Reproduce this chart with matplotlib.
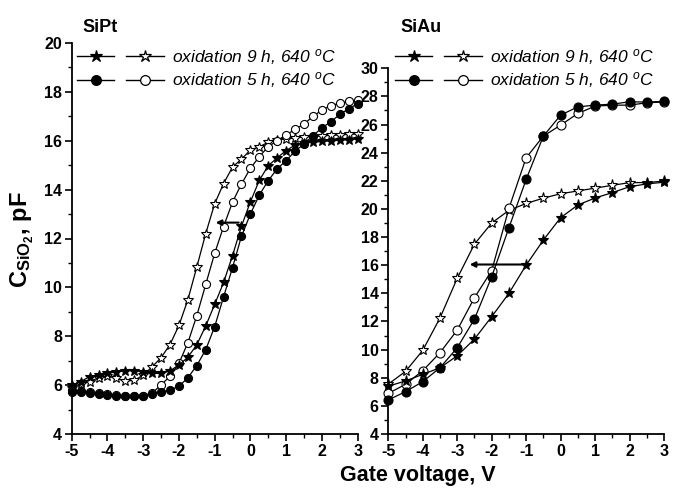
import numpy as np
import matplotlib
matplotlib.use('Agg')
import matplotlib.pyplot as plt
import matplotlib as mpl
from matplotlib import font_manager
from matplotlib.legend_handler import HandlerTuple
from matplotlib.lines import Line2D

# SiPt panel, 0.25 V steps
pt_v = [-5, -4.75, -4.5, -4.25, -4, -3.75, -3.5, -3.25, -3, -2.75, -2.5, -2.25,
        -2, -1.75, -1.5, -1.25, -1, -0.75, -0.5, -0.25, 0, 0.25, 0.5, 0.75,
        1, 1.25, 1.5, 1.75, 2, 2.25, 2.5, 2.75, 3]
pt_9h_fill = [6.0, 6.14, 6.35, 6.41, 6.48, 6.55, 6.59, 6.59, 6.55, 6.48, 6.48, 6.59,
              6.82, 7.14, 7.65, 8.42, 9.3, 10.2, 11.3, 12.5, 13.5, 14.38, 14.98, 15.3,
              15.6, 15.82, 15.9, 15.94, 15.97, 16.0, 16.02, 16.05, 16.08]
pt_9h_open = [5.9, 6.05, 6.14, 6.3, 6.37, 6.28, 6.17, 6.19, 6.41, 6.75, 7.12, 7.66,
              8.44, 9.49, 10.83, 12.2, 13.42, 14.25, 14.92, 15.25, 15.62, 15.75, 15.94, 16.03,
              16.08, 16.12, 16.15, 16.17, 16.2, 16.22, 16.24, 16.26, 16.28]
pt_5h_fill = [5.7, 5.7, 5.68, 5.63, 5.6, 5.57, 5.55, 5.55, 5.55, 5.62, 5.72, 5.8,
              5.95, 6.3, 6.8, 7.45, 8.39, 9.61, 10.81, 12.09, 13.0, 13.78, 14.37, 14.85,
              15.19, 15.57, 15.87, 16.2, 16.53, 16.77, 17.08, 17.3, 17.52]
pt_5h_open = [5.82, 5.76, 5.73, 5.68, 5.63, 5.58, 5.55, 5.55, 5.57, 5.68, 6.0, 6.37,
              6.89, 7.73, 8.84, 10.12, 11.39, 12.49, 13.49, 14.23, 14.87, 15.35, 15.76, 16.0,
              16.23, 16.47, 16.68, 17.0, 17.25, 17.44, 17.53, 17.62, 17.67]

# SiAu panel, 0.5 V steps
au_v = [-5, -4.5, -4, -3.5, -3, -2.5, -2, -1.5, -1, -0.5, 0, 0.5, 1, 1.5, 2, 2.5, 3]
au_9h_fill = [7.4, 7.77, 8.24, 8.71, 9.56, 10.75, 12.34, 14.0, 16.01, 17.79, 19.38,
              20.28, 20.78, 21.16, 21.58, 21.78, 21.9]
au_9h_open = [7.55, 8.45, 9.95, 12.25, 15.07, 17.5, 19.0, 19.9, 20.39, 20.77, 21.08,
              21.28, 21.48, 21.68, 21.87, 21.88, 21.98]
au_5h_fill = [6.42, 7.01, 7.72, 8.71, 10.13, 12.17, 15.18, 18.66, 22.1, 25.18, 26.67,
              27.26, 27.38, 27.45, 27.62, 27.6, 27.65]
au_5h_open = [6.89, 7.53, 8.5, 9.78, 11.39, 13.69, 15.61, 20.04, 23.64, 25.18, 25.96,
              26.79, 27.31, 27.38, 27.38, 27.55, 27.6]

lab9 = r'oxidation 9 h, 640 $^{o}$C'
lab5 = r'oxidation 5 h, 640 $^{o}$C'

names = {f.name for f in font_manager.fontManager.ttflist}
narrow = 'Liberation Sans Narrow' if 'Liberation Sans Narrow' in names else 'Liberation Sans'

mpl.rcParams['font.family'] = ['Liberation Sans', 'DejaVu Sans']
mpl.rcParams['mathtext.fontset'] = 'custom'
mpl.rcParams['mathtext.rm'] = 'Liberation Sans'
mpl.rcParams['mathtext.it'] = 'Liberation Sans:italic'
mpl.rcParams['mathtext.bf'] = 'Liberation Sans:bold'
mpl.rcParams['axes.linewidth'] = 1.3
mpl.rcParams['axes.unicode_minus'] = False

fig = plt.figure(figsize=(6.85, 4.97), dpi=100)
W, H = 685.0, 497.0
ax1 = fig.add_axes([71.7/W, 1-434/H, (357.6-71.7)/W, (434-43)/H])
ax2 = fig.add_axes([388.3/W, 1-434/H, (664-388.3)/W, (434-68.3)/H])

def style(ax, ymin, ymax):
    ax.set_xlim(-5, 3)
    ax.set_ylim(ymin, ymax)
    ax.spines['top'].set_visible(False)
    ax.spines['right'].set_visible(False)
    ax.set_xticks(range(-5, 4))
    ax.set_xticks(np.arange(-4.5, 3, 1.0), minor=True)
    ax.set_yticks(range(ymin, ymax + 1, 2))
    ax.set_yticks(range(ymin + 1, ymax, 2), minor=True)
    ax.tick_params(which='major', direction='out', length=5, width=1.2, pad=2)
    ax.tick_params(which='minor', direction='out', length=3, width=1.0)
    for t in ax.get_xticklabels() + ax.get_yticklabels():
        t.set_fontweight('bold')
        t.set_fontsize(12.5 if narrow != 'Liberation Sans' else 11.5)
        t.set_family(narrow)

def draw(ax, v, y, marker, filled, ms):
    return ax.plot(v, y, '-', color='k', lw=0.9, marker=marker, ms=ms,
                   mfc='k' if filled else 'white', mec='k', mew=0.8,
                   clip_on=False, zorder=3)[0]

draw(ax1, pt_v, pt_9h_open, '*', False, 7.5)
draw(ax1, pt_v, pt_5h_open, 'o', False, 5.8)
draw(ax1, pt_v, pt_5h_fill, 'o', True, 5.8)
draw(ax1, pt_v, pt_9h_fill, '*', True, 7.5)
ax1.annotate('', xy=(-1.05, 12.65), xytext=(-0.25, 12.65),
             arrowprops=dict(arrowstyle='-|>', color='k', lw=1.5,
                             mutation_scale=8), zorder=5)

draw(ax2, au_v, au_9h_open, '*', False, 8)
draw(ax2, au_v, au_5h_open, 'o', False, 6.5)
draw(ax2, au_v, au_5h_fill, 'o', True, 6.5)
draw(ax2, au_v, au_9h_fill, '*', True, 8)
ax2.annotate('', xy=(-2.72, 16.05), xytext=(-1.0, 16.05),
             arrowprops=dict(arrowstyle='-|>', color='k', lw=1.5,
                             mutation_scale=8), zorder=5)

style(ax1, 4, 20)
style(ax2, 4, 30)

def leg_handle(marker, filled, ms):
    return Line2D([], [], color='k', lw=1.0, marker=marker, ms=ms,
                  mfc='k' if filled else 'white', mec='k', mew=0.9)

for ax, x0 in ((ax1, 70), (ax2, 388)):
    hs = [(leg_handle('*', True, 9), leg_handle('*', False, 9)),
          (leg_handle('o', True, 7), leg_handle('o', False, 7))]
    ax.legend(hs, [lab9, lab5], handler_map={tuple: HandlerTuple(ndivide=None, pad=0.7)},
              loc='upper left', bbox_to_anchor=(x0/W, 1-40/H),
              bbox_transform=fig.transFigure, frameon=False, borderaxespad=0,
              handlelength=5.0, handletextpad=0.5, labelspacing=0.2,
              prop=dict(style='italic', size=12.5))

fig.text(82/W, 1-27/H, 'SiPt', fontsize=13, fontweight='bold', va='center', ha='left')
fig.text(400/W, 1-27/H, 'SiAu', fontsize=13, fontweight='bold', va='center', ha='left')
fig.text(22/W, 1-240/H, r'C$_{\mathbf{SiO_2}}$, pF', fontsize=17, fontweight='bold',
         rotation=90, va='center', ha='center')
fig.text(418/W, 1-476/H, 'Gate voltage, V', fontsize=17 if narrow != 'Liberation Sans' else 15.5,
         fontweight='bold', va='center', ha='center', family=narrow)

fig.savefig('out.png', dpi=100)
